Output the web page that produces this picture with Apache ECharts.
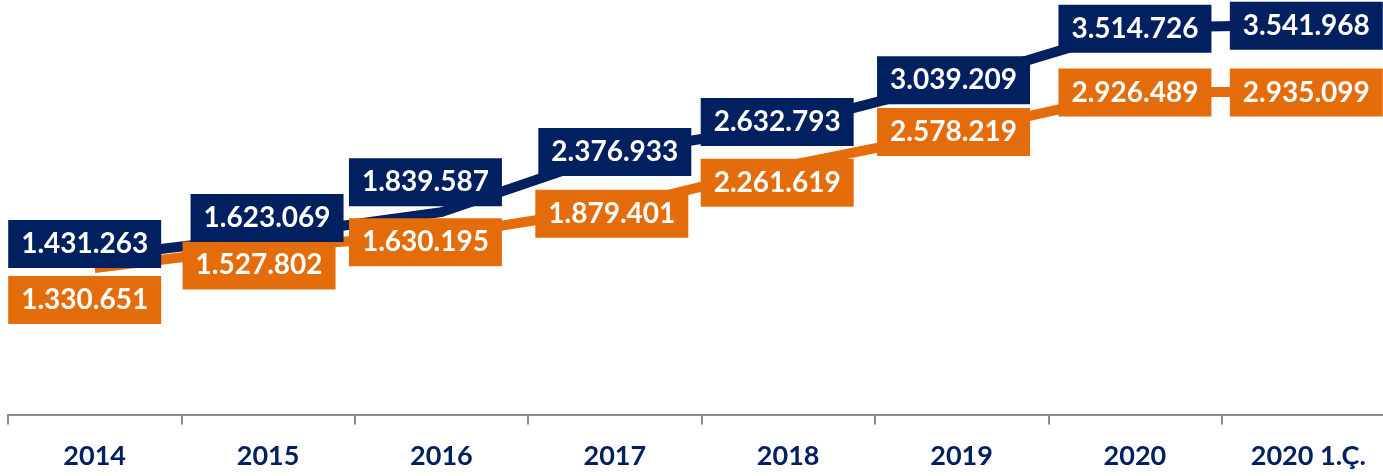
<!DOCTYPE html>
<html>
<head>
<meta charset="utf-8">
<script src="https://cdn.jsdelivr.net/npm/echarts@6/dist/echarts.min.js"></script>
<style>
html,body{margin:0;padding:0;background:#fff;overflow:hidden;}
#chart{width:1400px;height:476px;}
</style>
</head>
<body>
<div id="chart"></div>
<script>
var categories = ['2014', '2015', '2016', '2017', '2018', '2019', '2020', '2020 1.Ç.'];
var navyValues = [1431263, 1623069, 1839587, 2376933, 2632793, 3039209, 3514726, 3541968];
var orangeValues = [1330651, 1527802, 1630195, 1879401, 2261619, 2578219, 2926489, 2935099];

// label nudges (pixels), as placed in the reference
var navyLabelShift = [[-10, -13], [-1, -18], [-16, -30], [0, -1], [-11, -3], [-8, 0], [0, 1], [-2, 1]];
var orangeLabelShift = [[-10, 32], [-9, 19], [-16, 7], [-3, 6], [-11, 17], [-8, 1], [0, 0], [-2, 1]];

var NAVY = '#002060';
var ORANGE = '#E46C0A';

function fmt(v) {
  return String(v).replace(/\B(?=(\d{3})+(?!\d))/g, '.');
}

function labelData(values, shifts, color) {
  return values.map(function (v, i) {
    return {
      value: v,
      label: {
        show: true,
        position: 'inside',
        offset: shifts[i],
        backgroundColor: color,
        color: '#ffffff',
        fontFamily: 'Lato',
        fontWeight: 'bold',
        fontSize: 28,
        lineHeight: 30,
        padding: [9, 13, 9, 13],
        formatter: function (p) { return fmt(p.value); }
      }
    };
  });
}

var chart = echarts.init(document.getElementById('chart'));
chart.setOption({
  animation: false,
  grid: { left: 8, width: 1387, top: 0, height: 414.5, containLabel: false },
  xAxis: {
    type: 'category',
    data: categories,
    boundaryGap: true,
    axisLine: { show: true, lineStyle: { color: '#8c8c8c', width: 2 } },
    axisTick: { show: true, length: 10, lineStyle: { color: '#8c8c8c', width: 2 } },
    axisLabel: {
      color: NAVY,
      fontFamily: 'Lato',
      fontWeight: 'bold',
      fontSize: 27,
      margin: 28,
      interval: 0
    },
    splitLine: { show: false }
  },
  yAxis: {
    type: 'value',
    min: 0,
    max: 3768000,
    show: false,
    splitLine: { show: false }
  },
  series: [
    {
      type: 'line',
      data: navyValues,
      z: 3,
      symbol: 'none',
      lineStyle: { color: NAVY, width: 10 },
      itemStyle: { color: NAVY }
    },
    {
      type: 'line',
      data: orangeValues,
      z: 2,
      symbol: 'none',
      lineStyle: { color: ORANGE, width: 10 },
      itemStyle: { color: ORANGE }
    },
    {
      type: 'scatter',
      z: 10,
      symbolSize: 1,
      itemStyle: { color: 'rgba(0,0,0,0)', opacity: 1 },
      emphasis: { disabled: true },
      data: labelData(orangeValues, orangeLabelShift, ORANGE)
    },
    {
      type: 'scatter',
      z: 11,
      symbolSize: 1,
      itemStyle: { color: 'rgba(0,0,0,0)', opacity: 1 },
      emphasis: { disabled: true },
      data: labelData(navyValues, navyLabelShift, NAVY)
    }
  ]
});
</script>
</body>
</html>
